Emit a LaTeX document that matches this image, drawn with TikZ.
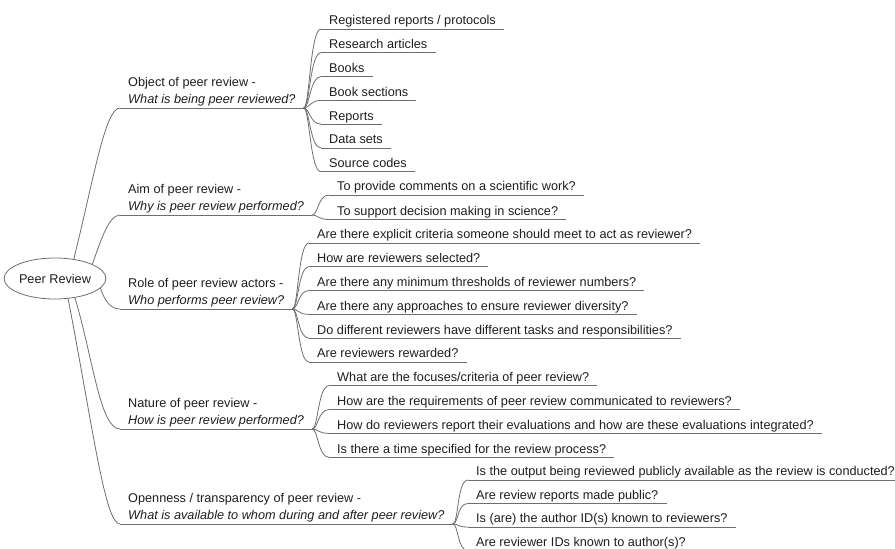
\documentclass[tikz,border=0pt]{standalone}
\usepackage{fontspec}
\setmainfont{Liberation Sans}
\usetikzlibrary{shapes.geometric}
\definecolor{linegray}{HTML}{6E6E6E}
\definecolor{txtcol}{HTML}{1E1E1E}
\newcommand\lblfont{\fontsize{12.7}{17}\selectfont}
\begin{document}
\begin{tikzpicture}[x=1pt,y=-1pt,
  edge/.style={draw=linegray, line width=0.8pt},
  rootnode/.style={ellipse, draw=linegray, line width=0.8pt, minimum width=90pt, minimum height=41pt, inner sep=0pt, font=\lblfont, text=txtcol},
  branch/.style={anchor=south west, align=left, inner xsep=8pt, inner ysep=1.3pt, font=\lblfont, text=txtcol},
  leaf/.style={anchor=south west, inner xsep=8pt, inner ysep=0pt, text height=9.5pt, text depth=4pt, font=\lblfont, text=txtcol}]
\useasboundingbox (0,0) rectangle (895,549);
\clip (0,0) rectangle (895,549);

% root
\node[rootnode] (root) at (55,278.5) {Peer Review};

% main branches
\node[branch] (b1) at (120,108) {Object of peer review -\\\textit{What is being peer reviewed?}};
\node[branch] (b2) at (120,215) {Aim of peer review -\\\textit{Why is peer review performed?}};
\node[branch] (b3) at (120,309) {Role of peer review actors -\\\textit{Who performs peer review?}};
\node[branch] (b4) at (120,429) {Nature of peer review -\\\textit{How is peer review performed?}};
\node[branch] (b5) at (120,524) {Openness / transparency of peer review -\\\textit{What is available to whom during and after peer review?}};

% object leaves
\node[leaf] (o1) at (321,29) {Registered reports / protocols};
\node[leaf] (o2) at (321,52.8) {Research articles};
\node[leaf] (o3) at (321,76.6) {Books};
\node[leaf] (o4) at (321,100.4) {Book sections};
\node[leaf] (o5) at (321,124.2) {Reports};
\node[leaf] (o6) at (321,148) {Data sets};
\node[leaf] (o7) at (321,171.8) {Source codes};

% aim leaves
\node[leaf] (a1) at (329,195) {To provide comments on a scientific work?};
\node[leaf] (a2) at (329,219.5) {To support decision making in science?};

% role leaves
\node[leaf] (r1) at (309,243) {Are there explicit criteria someone should meet to act as reviewer?};
\node[leaf] (r2) at (309,266.8) {How are reviewers selected?};
\node[leaf] (r3) at (309,290.6) {Are there any minimum thresholds of reviewer numbers?};
\node[leaf] (r4) at (309,314.4) {Are there any approaches to ensure reviewer diversity?};
\node[leaf] (r5) at (309,338.2) {Do different reviewers have different tasks and responsibilities?};
\node[leaf] (r6) at (309,362) {Are reviewers rewarded?};

% nature leaves
\node[leaf] (n1) at (329,385.7) {What are the focuses/criteria of peer review?};
\node[leaf] (n2) at (329,409.6) {How are the requirements of peer review communicated to reviewers?};
\node[leaf] (n3) at (329,433.4) {How do reviewers report their evaluations and how are these evaluations integrated?};
\node[leaf] (n4) at (329,457.3) {Is there a time specified for the review process?};

% openness leaves
\node[leaf] (p1) at (468,480) {Is the output being reviewed publicly available as the review is conducted?};
\node[leaf] (p2) at (468,503.5) {Are review reports made public?};
\node[leaf] (p3) at (468,527) {Is (are) the author ID(s) known to reviewers?};
\node[leaf] (p4) at (468,550.5) {Are reviewer IDs known to author(s)?};

% underlines
\foreach \n in {b1,b2,b3,b4,b5,o1,o2,o3,o4,o5,o6,o7,a1,a2,r1,r2,r3,r4,r5,r6,n1,n2,n3,n4,p1,p2,p3,p4}
  \draw[edge] (\n.south west) -- (\n.south east);

% root connectors
\draw[edge] (root.46) .. controls +(20,-80) and +(-15,0) .. (b1.south west);
\draw[edge] (root.21) .. controls +(7,-19) and +(-12,0) .. (b2.south west);
\draw[edge] (root.-12) .. controls +(4,12) and +(-10,0) .. (b3.south west);
\draw[edge] (root.-44) .. controls +(18,60) and +(-20,0) .. (b4.south west);
\draw[edge] (root.-57) .. controls +(25,130) and +(-15,0) .. (b5.south west);

% leaf connectors
\foreach \p/\c in {b1/o1,b1/o2,b1/o3,b1/o4,b1/o5,b1/o6,b1/o7,b2/a1,b2/a2,b3/r1,b3/r2,b3/r3,b3/r4,b3/r5,b3/r6,b4/n1,b4/n2,b4/n3,b4/n4,b5/p1,b5/p2,b5/p3,b5/p4}
  \draw[edge] (\p.south east) .. controls +(6,0) and +(-11,0) .. (\c.south west);
\end{tikzpicture}
\end{document}
